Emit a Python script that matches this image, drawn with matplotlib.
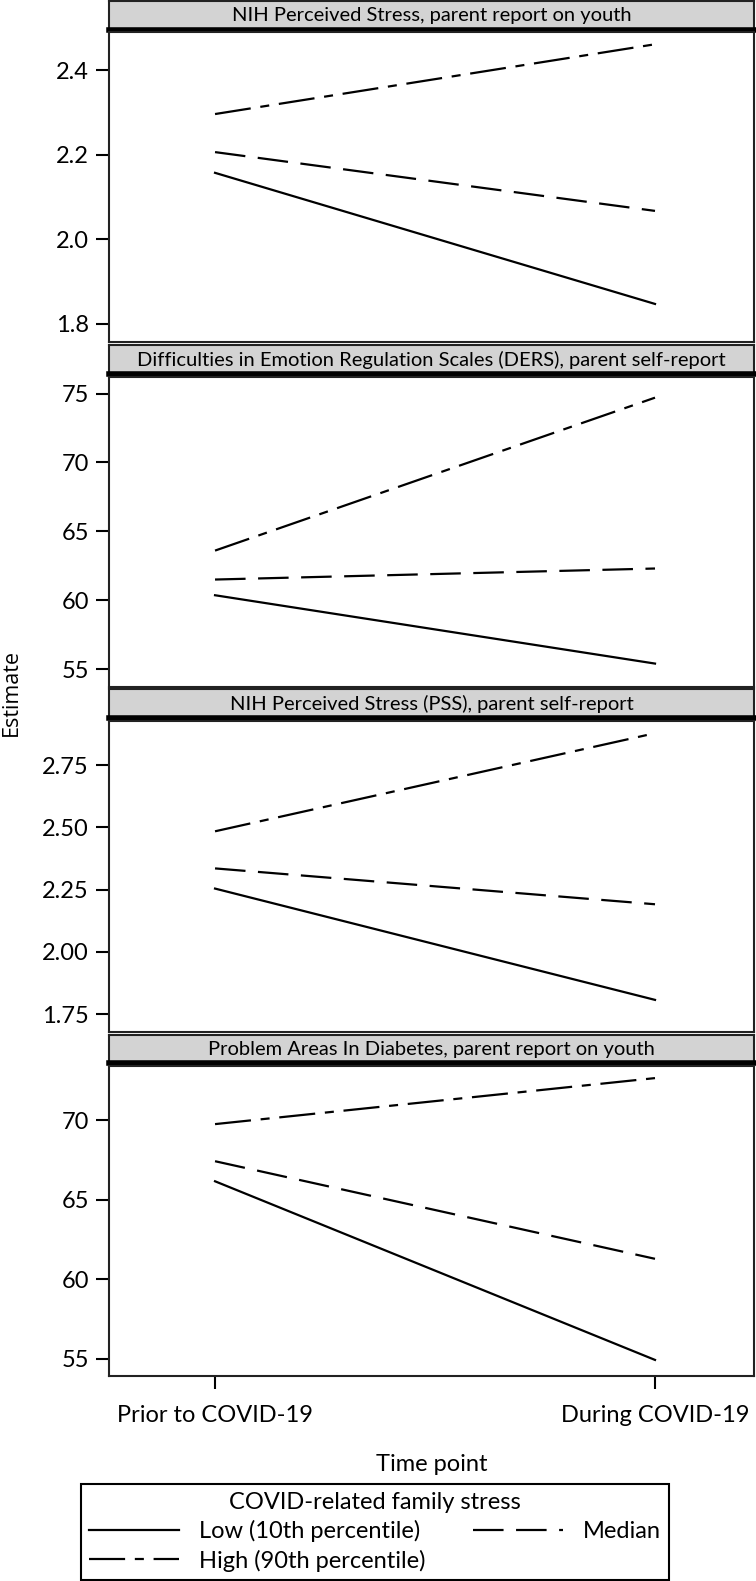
import matplotlib
matplotlib.use("Agg")
import matplotlib.pyplot as plt
from matplotlib.ticker import FormatStrFormatter

# Data
timepoints = ['Prior to COVID-19', 'During COVID-19']
panel_titles = [
    'NIH Perceived Stress, parent report on youth',
    'Difficulties in Emotion Regulation Scales (DERS), parent self-report',
    'NIH Perceived Stress (PSS), parent self-report',
    'Problem Areas In Diabetes, parent report on youth',
]
low = [[2.157, 1.847], [60.36, 55.4], [2.254, 1.807], [66.16, 54.94]]
median = [[2.206, 2.067], [61.5, 62.3], [2.335, 2.191], [67.42, 61.29]]
high = [[2.296, 2.461], [63.6, 74.7], [2.484, 2.878], [69.75, 72.64]]
series_labels = ['Low (10th percentile)', 'Median', 'High (90th percentile)']

# axis setup per panel
ylims = [(1.757, 2.49), (53.7, 76.2), (1.678, 2.927), (53.93, 73.4)]
yticks = [[1.8, 2.0, 2.2, 2.4], [55, 60, 65, 70, 75],
          [1.75, 2.00, 2.25, 2.50, 2.75], [55, 60, 65, 70]]
yfmts = ['%.1f', '%.0f', '%.2f', '%.0f']

plt.rcParams['font.family'] = ['Lato', 'DejaVu Sans']
plt.rcParams['lines.scale_dashes'] = False

W, H = 756, 1581
fig = plt.figure(figsize=(W / 100, H / 100), dpi=100)


def rect(x0, y0, x1, y1):
    return [x0 / W, 1 - y1 / H, (x1 - x0) / W, (y1 - y0) / H]


left, right = 109, 754
header_px = [(1, 30), (345, 374), (689, 718), (1035, 1063)]
plot_px = [(32, 342), (377, 687), (721, 1032), (1066, 1376)]

styles = {
    'low': dict(linestyle='-'),
    'median': dict(linestyle=(0, (22, 9))),
    'high': dict(linestyle=(0, (26, 7, 6.5, 7))),
}

handles = []
for i in range(4):
    hax = fig.add_axes(rect(left, header_px[i][0], right, header_px[i][1]))
    hax.set_facecolor('#d3d3d3')
    hax.set_xticks([])
    hax.set_yticks([])
    for s in hax.spines.values():
        s.set_linewidth(1.5)
        s.set_color('#222222')
    hax.spines['bottom'].set_linewidth(4)
    hax.spines['bottom'].set_color('black')
    hax.text(0.5, 0.5, panel_titles[i], ha='center', va='center', fontsize=14.5)

    ax = fig.add_axes(rect(left, plot_px[i][0], right, plot_px[i][1]))
    x = [0, 1]
    l1, = ax.plot(x, low[i], color='black', lw=1.6, **styles['low'])
    l2, = ax.plot(x, median[i], color='black', lw=1.6, **styles['median'])
    l3, = ax.plot(x, high[i], color='black', lw=1.6, **styles['high'])
    if i == 0:
        handles = [l1, l3, l2]
    ax.set_xlim(-0.241, 1.225)
    ax.set_ylim(*ylims[i])
    ax.set_yticks(yticks[i])
    ax.yaxis.set_major_formatter(FormatStrFormatter(yfmts[i]))
    ax.tick_params(axis='y', direction='out', length=9.5, width=1.5,
                   labelsize=17, pad=5)
    for s in ax.spines.values():
        s.set_linewidth(1.5)
        s.set_color('#222222')
    if i == 3:
        ax.set_xticks(x)
        ax.set_xticklabels(timepoints)
        ax.tick_params(axis='x', direction='out', length=9, width=1.5,
                       labelsize=17, pad=12)
        ax.set_xlabel('Time point', fontsize=17, labelpad=20)
    else:
        ax.set_xticks([])

fig.text(11 / W, 1 - 692 / H, 'Estimate', rotation=90, ha='center',
         va='center', fontsize=15.5, family=['Open Sans', 'DejaVu Sans'])

leg = fig.legend(handles, [series_labels[0], series_labels[2], series_labels[1]],
                 ncol=2, loc='center', bbox_to_anchor=(375 / W, 1 - 1532 / H),
                 title='COVID-related family stress', title_fontsize=17,
                 fontsize=17, frameon=True, fancybox=False, framealpha=1,
                 edgecolor='black', handlelength=3.8, handletextpad=0.85,
                 columnspacing=2.0, labelspacing=0.3, borderpad=0.35)
leg.get_frame().set_linewidth(1.5)

fig.savefig('out.png', dpi=100)
